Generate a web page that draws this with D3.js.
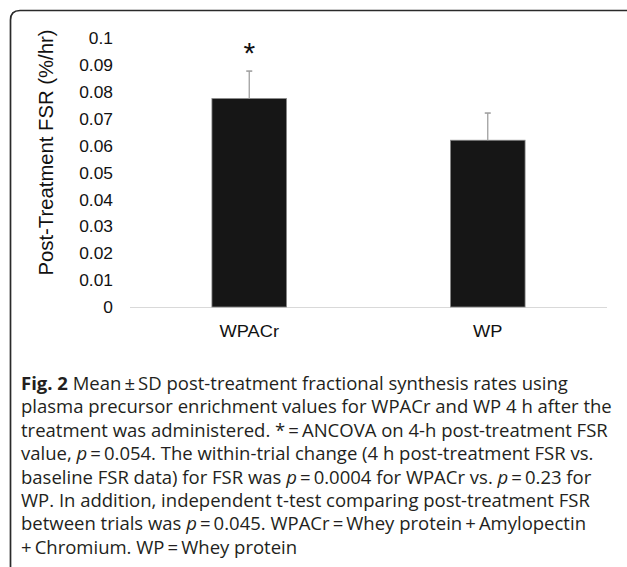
<!DOCTYPE html>
<html>
<head>
<meta charset="utf-8">
<script src="https://cdn.jsdelivr.net/npm/d3@7/dist/d3.min.js"></script>
<style>
  html, body { margin: 0; padding: 0; background: #fff; }
  svg { display: block; }
</style>
</head>
<body>
<svg id="chart" width="627" height="567"></svg>
<script>
// ---- data ----
const categories = ["WPACr", "WP"];
const meanValues = [0.0775, 0.062];
const sdValues = [0.0102, 0.0101];
const significance = ["*", ""];
const yTicks = [0, 0.01, 0.02, 0.03, 0.04, 0.05, 0.06, 0.07, 0.08, 0.09, 0.1];
const yTickLabels = ["0", "0.01", "0.02", "0.03", "0.04", "0.05", "0.06", "0.07", "0.08", "0.09", "0.1"];
const yAxisTitle = "Post-Treatment FSR (%/hr)";
const captionLines = [
  [["Fig. 2", "b"], [" Mean\u2009\u00b1\u2009SD post-treatment fractional synthesis rates using", ""]],
  [["plasma precursor enrichment values for WPACr and WP 4 h after the", ""]],
  [["treatment was administered. *\u2009=\u2009ANCOVA on 4-h post-treatment FSR", ""]],
  [["value, ", ""], ["p", "i"], ["\u2009=\u20090.054. The within-trial change (4 h post-treatment FSR vs.", ""]],
  [["baseline FSR data) for FSR was ", ""], ["p", "i"], ["\u2009=\u20090.0004 for WPACr vs. ", ""], ["p", "i"], ["\u2009=\u20090.23 for", ""]],
  [["WP. In addition, independent t-test comparing post-treatment FSR", ""]],
  [["between trials was ", ""], ["p", "i"], ["\u2009=\u20090.045. WPACr\u2009=\u2009Whey protein\u2009+\u2009Amylopectin", ""]],
  [["+\u2009Chromium. WP\u2009=\u2009Whey protein", ""]]
];

// ---- layout ----
const svg = d3.select("#chart");
const plot = { left: 130, right: 607, top: 38, bottom: 307 };

const x = d3.scaleBand().domain(categories).range([plot.left, plot.right]).paddingInner(0).paddingOuter(0);
const y = d3.scaleLinear().domain([0, 0.1]).range([plot.bottom, plot.top]);
const barW = x.bandwidth() * 0.313;

// frame (rounded top-left corner)
svg.append("path")
  .attr("d", "M10.5,567 L10.5,20 Q10.5,10.5 20,10.5 L627,10.5")
  .attr("fill", "none").attr("stroke", "#2a2a2a").attr("stroke-width", 1.7);

// y axis tick labels (no line)
const yAxis = d3.axisLeft(y).tickValues(yTicks).tickSize(0).tickPadding(0)
  .tickFormat((d, i) => yTickLabels[i]);
const gy = svg.append("g").attr("transform", `translate(113,0)`).call(yAxis);
gy.select(".domain").remove();
gy.selectAll(".tick text")
  .attr("font-family", "Liberation Sans, Arial, sans-serif")
  .attr("font-size", 15.8).attr("fill", "#111")
  .attr("x", 0).attr("dy", "0.36em")
  .attr("transform", "scale(1.1,1)");

// baseline
svg.append("line")
  .attr("x1", plot.left).attr("x2", plot.right)
  .attr("y1", y(0) + 0.5).attr("y2", y(0) + 0.5)
  .attr("stroke", "#d9d9d9").attr("stroke-width", 1);

// bars
svg.selectAll("rect.bar").data(categories).join("rect")
  .attr("class", "bar")
  .attr("x", d => x(d) + x.bandwidth() / 2 - barW / 2)
  .attr("width", barW)
  .attr("y", (d, i) => y(meanValues[i]))
  .attr("height", (d, i) => y(0) - y(meanValues[i]))
  .attr("fill", "#161616").attr("stroke", "#8a8a8a").attr("stroke-width", 0.8);

// error bars
const eb = svg.selectAll("g.err").data(categories).join("g").attr("class", "err");
eb.append("line")
  .attr("x1", d => x(d) + x.bandwidth() / 2).attr("x2", d => x(d) + x.bandwidth() / 2)
  .attr("y1", (d, i) => y(meanValues[i])).attr("y2", (d, i) => y(meanValues[i] + sdValues[i]))
  .attr("stroke", "#a0a0a0").attr("stroke-width", 1.3);
eb.append("line")
  .attr("x1", d => x(d) + x.bandwidth() / 2 - 3).attr("x2", d => x(d) + x.bandwidth() / 2 + 3)
  .attr("y1", (d, i) => y(meanValues[i] + sdValues[i])).attr("y2", (d, i) => y(meanValues[i] + sdValues[i]))
  .attr("stroke", "#a0a0a0").attr("stroke-width", 1.6);

// significance marks
svg.selectAll("text.sig").data(categories).join("text")
  .attr("class", "sig")
  .attr("x", d => x(d) + x.bandwidth() / 2)
  .attr("y", (d, i) => y(meanValues[i] + sdValues[i]) - 8)
  .attr("text-anchor", "middle")
  .attr("font-family", "Liberation Sans, Arial, sans-serif")
  .attr("font-size", 30).attr("fill", "#111")
  .text((d, i) => significance[i]);

// category labels
svg.selectAll("g.cat").data(categories).join("g")
  .attr("class", "cat")
  .attr("transform", d => `translate(${x(d) + x.bandwidth() / 2},337) scale(1.1,1)`)
  .append("text")
  .attr("text-anchor", "middle")
  .attr("font-family", "Liberation Sans, Arial, sans-serif")
  .attr("font-size", 16.6).attr("fill", "#111")
  .text(d => d);

// y axis title
svg.append("text")
  .attr("transform", `translate(52.5,${(28 + 277) / 2}) rotate(-90)`)
  .attr("text-anchor", "middle")
  .attr("font-family", "Liberation Sans, Arial, sans-serif")
  .attr("font-size", 20.3).attr("fill", "#111")
  .text(yAxisTitle);

// caption
const cap = svg.append("g");
captionLines.forEach((segs, i) => {
  const t = cap.append("text")
    .attr("x", 21).attr("y", 390 + i * 23.4)
    .attr("font-family", "Open Sans, sans-serif")
    .attr("font-size", 18.5).attr("fill", "#231f20");
  segs.forEach(([txt, st]) => {
    const sp = t.append("tspan").text(txt);
    if (st === "b") sp.attr("font-weight", "bold");
    if (st === "i") sp.attr("font-style", "italic");
  });
});
</script>
</body>
</html>
